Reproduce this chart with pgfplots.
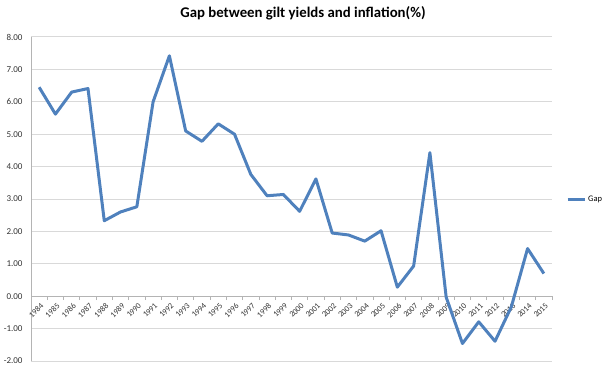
\documentclass[border=0pt]{standalone}
\usepackage{fontspec}
\setmainfont{Carlito}
\usepackage{pgfplots}
\pgfplotsset{compat=1.18}
\definecolor{gapblue}{RGB}{79,129,189}
\definecolor{gridgray}{RGB}{217,217,217}
\definecolor{axisgray}{RGB}{180,180,180}
\begin{document}
\begin{tikzpicture}
\begin{axis}[
  scale only axis,
  width=521pt, height=324pt,
  xmin=-0.5, xmax=31.5, ymin=-2, ymax=8,
  axis x line*=middle, axis y line*=left,
  axis line style={draw=axisgray, line width=0.8pt, -},
  hide obscured x ticks=false, hide obscured y ticks=false,
  ytick={-2,-1,...,8},
  ymajorgrids,
  grid style={draw=gridgray, line width=1pt},
  /pgf/number format/assume math mode=true,
  yticklabel={\pgfmathprintnumber[fixed,fixed zerofill,precision=2]{\tick}},
  yticklabel style={font=\fontsize{9}{10}\selectfont, text=black!80, xshift=-5pt},
  xtick={0,...,31},
  xticklabels={1984,1985,1986,1987,1988,1989,1990,1991,1992,1993,1994,1995,1996,1997,1998,1999,2000,2001,2002,2003,2004,2005,2006,2007,2008,2009,2010,2011,2012,2013,2014,2015},
  xticklabel style={font=\fontsize{8.2}{9}\selectfont, text=black!80, inner sep=0pt, xshift=3pt, yshift=-8pt, rotate=45, anchor=east},
  minor xtick={-0.5,0.5,...,31.5},
  major tick length=0pt, minor tick length=4pt,
  tick align=outside,
  minor tick style={draw=axisgray, line width=0.8pt},
  title={Gap between gilt yields and inflation(\%)},
  title style={font=\bfseries\fontsize{14.8}{17}\selectfont, at={(0.5,1)}, anchor=base, yshift=13pt, xshift=11.5pt},
  legend style={at={(1,0.5)}, anchor=west, xshift=14pt, draw=none, fill=none, font=\fontsize{8.5}{10}\selectfont, inner sep=0pt},
  legend cell align=left,
  legend image code/.code={\draw[#1] (0pt,0pt) -- (17pt,0pt);},
]
\addplot[color=gapblue, line width=3pt, line join=round] coordinates {
(0,6.45) (1,5.62) (2,6.30) (3,6.41) (4,2.33) (5,2.60) (6,2.76) (7,6.00)
(8,7.42) (9,5.10) (10,4.78) (11,5.32) (12,5.00) (13,3.76) (14,3.10) (15,3.14)
(16,2.62) (17,3.62) (18,1.95) (19,1.89) (20,1.70) (21,2.02) (22,0.28) (23,0.93)
(24,4.43) (25,-0.03) (26,-1.46) (27,-0.79) (28,-1.39) (29,-0.33) (30,1.47) (31,0.70)
};
\addlegendentry{Gap}
\coordinate (bbsw) at (rel axis cs:0,0);
\coordinate (bbne) at (rel axis cs:1,1);
\end{axis}
\pgfresetboundingbox
\path[use as bounding box] ([xshift=-31pt,yshift=-10pt]bbsw) rectangle ([xshift=54pt,yshift=37pt]bbne);
\end{tikzpicture}
\end{document}
